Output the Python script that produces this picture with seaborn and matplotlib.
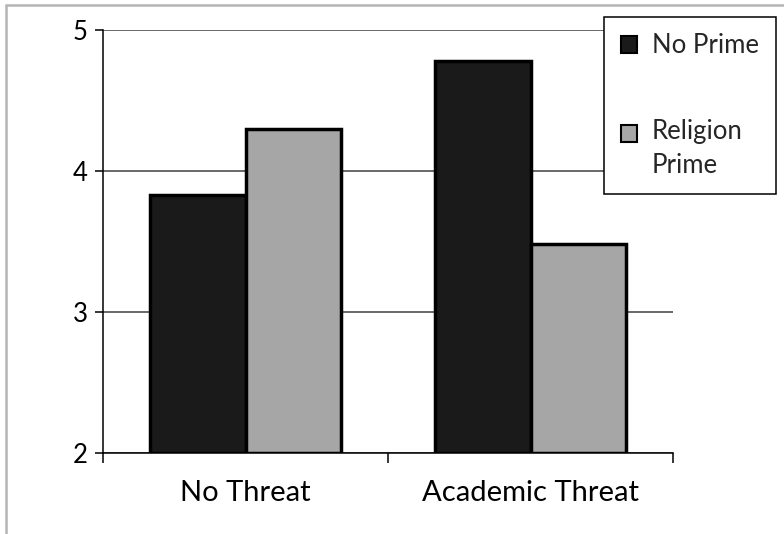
"""
Scores by threat condition and prime condition
"""

import pandas as pd
import matplotlib.pyplot as plt
import seaborn as sns
from matplotlib.lines import Line2D
from matplotlib.patches import Patch, Rectangle
from matplotlib.legend_handler import HandlerPatch

# Data
threats = ['No Threat', 'Academic Threat']
primes = ['No Prime', 'Religion\nPrime']
no_prime = [3.83, 4.78]
religion_prime = [4.30, 3.48]
y_ticks = [2, 3, 4, 5]

colors = {'No Prime': '#1a1a1a', 'Religion\nPrime': '#a6a6a6'}

df = pd.DataFrame({
    'threat': threats * 2,
    'prime': [primes[0]] * 2 + [primes[1]] * 2,
    'score': no_prime + religion_prime,
})

sns.set_theme(style='white')
plt.rcParams['font.family'] = ['Lato', 'DejaVu Sans']

W, H = 784, 534
fig = plt.figure(figsize=(W / 100, H / 100), dpi=100)
ax = fig.add_axes([103 / W, 1 - 453.3 / H, 570 / W, 423.3 / H])

sns.barplot(data=df, x='threat', y='score', hue='prime', order=threats,
            hue_order=primes, palette=colors, edgecolor='black',
            linewidth=2.5, width=0.667, gap=0, ax=ax, legend=False,
            saturation=1, zorder=3)

# bars start at the bottom of the axis (2) so the bottom edge shows
for cont in ax.containers:
    for p in cont:
        h = p.get_height()
        p.set_y(y_ticks[0])
        p.set_height(h - y_ticks[0])

ax.set_ylim(2, 5)
ax.set_xlim(-0.5, 1.5)
ax.set_yticks(y_ticks)
ax.yaxis.grid(True, color='#404040', linewidth=1.1, zorder=0)
ax.set_axisbelow(True)
ax.set_xlabel('')
ax.set_ylabel('')

for s in ['top', 'right']:
    ax.spines[s].set_visible(False)
for s in ['left', 'bottom']:
    ax.spines[s].set_color('black')
    ax.spines[s].set_linewidth(1.1)

ax.tick_params(axis='y', direction='out', length=6, width=1.1, color='black',
               pad=5, labelsize=18.5, labelcolor='black', left=True)
ax.tick_params(axis='x', which='major', length=0, pad=19, labelsize=21,
               labelcolor='black')
ax.set_xticks([-0.5, 0.5, 1.5], minor=True)
ax.tick_params(axis='x', which='minor', direction='out', length=7.5,
               width=1.1, color='black', bottom=True)


# put the swatch of a two-line label next to its first line
def top_square(legend, orig_handle, xdescent, ydescent, width, height, fontsize):
    shift = 0.6 * fontsize if '\n' in orig_handle.get_label() else 0
    return Rectangle((-xdescent, -ydescent + shift), width, height)


handles = [Patch(facecolor=colors[p], edgecolor='black', linewidth=1.5, label=p)
           for p in primes]
leg = fig.legend(handles=handles, loc='upper left',
                 bbox_to_anchor=(604 / W, 1 - 16.7 / H),
                 bbox_transform=fig.transFigure, fontsize=18.5,
                 frameon=True, fancybox=False, shadow=False,
                 borderpad=0.65, handlelength=0.62, handleheight=0.62,
                 handletextpad=0.6, labelspacing=2.35, borderaxespad=0,
                 handler_map={Patch: HandlerPatch(patch_func=top_square)})
leg.get_frame().set_edgecolor('black')
leg.get_frame().set_linewidth(1.1)
leg.get_frame().set_facecolor('white')
leg.get_frame().set_alpha(1)
for t in leg.get_texts():
    t.set_linespacing(1.45)

# light outer border (top and left only)
fig.add_artist(Line2D([5.5 / W, 1], [1 - 4.5 / H, 1 - 4.5 / H],
                      transform=fig.transFigure, color='#b5b5b5', linewidth=1.8))
fig.add_artist(Line2D([5.5 / W, 5.5 / W], [0, 1 - 4.5 / H],
                      transform=fig.transFigure, color='#b5b5b5', linewidth=1.8))

fig.savefig('out.png', dpi=100)
plt.close(fig)
